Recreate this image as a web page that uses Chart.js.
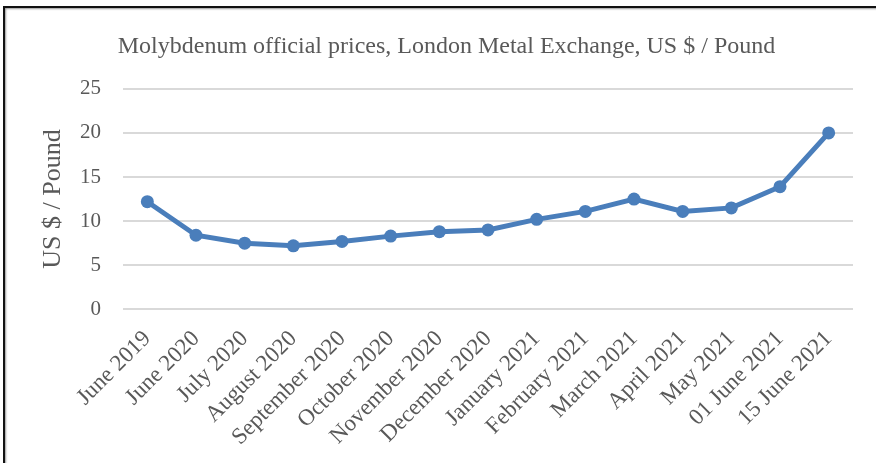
<!DOCTYPE html>
<html>
<head>
<meta charset="utf-8">
<script src="https://cdn.jsdelivr.net/npm/chart.js@4"></script>
<style>
  html, body { margin: 0; padding: 0; background: #fff; }
  body { width: 876px; height: 463px; overflow: hidden; position: relative; }
  /* frame of the figure, its right and bottom edges fall outside the crop */
  #frame {
    position: absolute; left: 3px; top: 6px; width: 900px; height: 500px;
    border: 2px solid #111; box-shadow: inset 1px 1px 2px #999;
  }
  #wrap { position: absolute; left: 0; top: 0; width: 876px; height: 463px; }
</style>
</head>
<body>
<div id="frame"></div>
<div id="wrap"><canvas id="moChart" width="876" height="463"></canvas></div>
<script>
// === datos del grafico ===
const periodos = [
  'June 2019', 'June 2020', 'July 2020', 'August 2020', 'September 2020',
  'October 2020', 'November 2020', 'December 2020', 'January 2021',
  'February 2021', 'March 2021', 'April 2021', 'May 2021',
  '01 June 2021', '15 June 2021'
];
const precios = [12.2, 8.4, 7.5, 7.2, 7.7, 8.3, 8.8, 9.0, 10.2, 11.1, 12.5, 11.1, 11.5, 13.9, 20.0];
const yTicks = [0, 5, 10, 15, 20, 25];

const tituloGrafico = 'Molybdenum official prices, London Metal Exchange, US $ / Pound';
const tituloEjeY = 'US $ / Pound';

const serif = '"Liberation Serif", "Times New Roman", serif';
const gris = '#595959';

const ctx = document.getElementById('moChart').getContext('2d');

new Chart(ctx, {
  type: 'line',
  data: {
    labels: periodos,
    datasets: [{
      label: tituloEjeY,
      data: precios,
      borderColor: '#4a7ebb',
      backgroundColor: '#4a7ebb',
      borderWidth: 5,
      pointRadius: 6.5,
      pointBackgroundColor: '#4a7ebb',
      pointBorderWidth: 0,
      tension: 0,
      fill: false
    }]
  },
  options: {
    responsive: false,
    animation: false,
    layout: { padding: { left: 40, right: 23, top: 0, bottom: -4 } },
    plugins: {
      legend: { display: false },
      tooltip: { enabled: false },
      title: {
        display: true,
        text: tituloGrafico,
        color: gris,
        font: { family: serif, size: 24, weight: 'normal' },
        padding: { top: 32, bottom: 28 }
      }
    },
    scales: {
      x: {
        offset: true,
        grid: { display: false, drawTicks: false },
        border: { display: false },
        ticks: {
          autoSkip: false,
          maxRotation: 45,
          minRotation: 45,
          padding: 16,
          color: gris,
          font: { family: serif, size: 23 }
        }
      },
      y: {
        min: 0,
        max: 25,
        afterBuildTicks: (axis) => { axis.ticks = yTicks.map(v => ({ value: v })); },
        grid: { color: '#d9d9d9', lineWidth: 2, drawTicks: false },
        border: { display: false },
        ticks: {
          padding: 22,
          color: gris,
          font: { family: serif, size: 21 }
        },
        title: {
          display: true,
          text: tituloEjeY,
          color: gris,
          font: { family: serif, size: 26, lineHeight: 1 },
          padding: { top: 0, bottom: -8 }
        }
      }
    }
  }
});
</script>
</body>
</html>
